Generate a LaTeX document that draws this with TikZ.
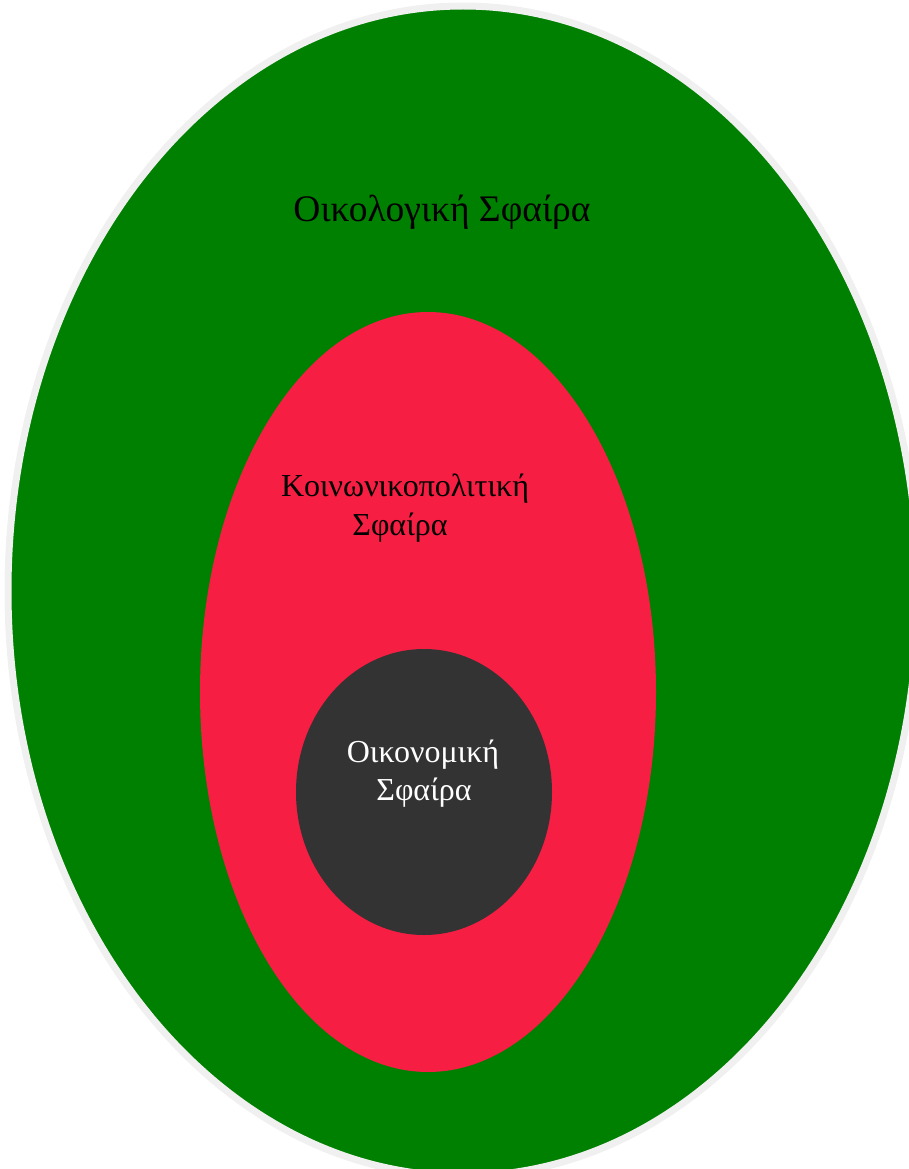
\documentclass[tikz,border=0pt]{standalone}
\usepackage{fontspec}
\setmainfont{Liberation Serif}
\definecolor{ecogreen}{HTML}{008000}
\definecolor{socred}{HTML}{F61E42}
\definecolor{econgray}{HTML}{333333}
\definecolor{rimgray}{HTML}{F0F0F0}
\tikzset{
  lbl/.style={font=\fontsize{32}{38}\selectfont, align=center, anchor=base, inner sep=0pt},
}
\begin{document}
\begin{tikzpicture}[x=1pt,y=-1pt]
  \useasboundingbox (0,0) rectangle (909,1169);
  \clip (0,0) rectangle (909,1169);
  % ecological sphere with its pale rim
  \filldraw[fill=ecogreen, draw=rimgray, line width=7pt] (463,591) ellipse [x radius=455, y radius=585];
  % socio-political sphere
  \fill[socred] (428,692) ellipse [x radius=228, y radius=380];
  % economic sphere
  \fill[econgray] (424,792) ellipse [x radius=128, y radius=143];
  % labels
  \node[lbl, font=\fontsize{37.5}{42}\selectfont] (eco) at (442,222) {Οικολογική Σφαίρα};
  \node[lbl] (soc1) at (405,496) {Κοινωνικοπολιτική};
  \node[lbl] (soc2) at (400,535) {Σφαίρα};
  \node[lbl, text=white] (econ1) at (423,762) {Οικονομική};
  \node[lbl, text=white] (econ2) at (424,800) {Σφαίρα};
\end{tikzpicture}
\end{document}
